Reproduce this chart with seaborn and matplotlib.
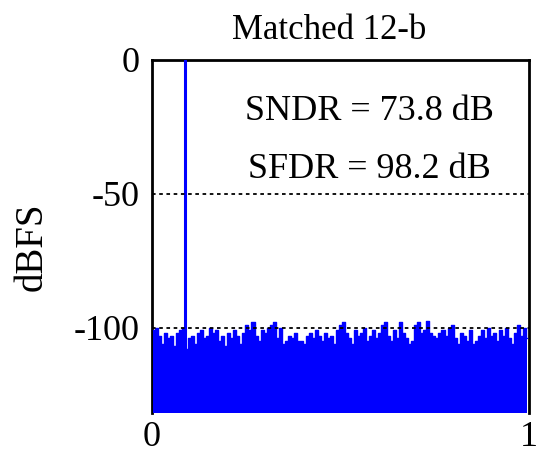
import numpy as np
import pandas as pd
import matplotlib
matplotlib.use("Agg")
import matplotlib.pyplot as plt
import seaborn as sns

# ---- data ----
title = "Matched 12-b"
sndr_text = "SNDR = 73.8 dB"
sfdr_text = "SFDR = 98.2 dB"
signal_freq = 0.0875
signal_level = 0.0
bin_width = 0.008
noise_levels = [
    -101, -100, -103, -106, -102, -104, -103, -107, -102, -101, -100,
    -108, -104, -103, -106, -102, -101, -104, -103, -100, -102,
    -101, -105, -103, -107, -102, -104, -101, -103, -106, -102,
    -99, -101, -98, -103, -105, -101, -102, -100, -99, -98,
    -104, -100, -106, -105, -103, -104, -102, -105, -105, -106,
    -103, -102, -104, -101, -103, -105, -102, -104, -103, -106,
    -101, -99, -98, -102, -104, -106, -101, -103, -102, -100,
    -105, -103, -101, -104, -102, -99, -98, -103, -105, -101,
    -104, -98, -102, -104, -106, -105, -99, -98, -102, -101,
    -97.5, -102, -103, -104, -102, -101, -103, -100, -99, -104,
    -106, -102, -103, -105, -101, -106, -105, -103, -101, -104,
    -100, -103, -102, -105, -101, -103, -100, -104, -106, -102,
    -99, -103, -100, -104,
]
noise_freq = [bin_width / 2 + bin_width * i for i in range(len(noise_levels))]
y_ticks = [0, -50, -100]
x_ticks = [0, 1]
y_min = -132

sns.set_theme(style="white")
plt.rcParams["font.family"] = ["Liberation Serif", "DejaVu Serif"]
plt.rcParams["text.color"] = "black"
plt.rcParams["axes.labelcolor"] = "black"
plt.rcParams["xtick.color"] = "black"
plt.rcParams["ytick.color"] = "black"

fig = plt.figure(figsize=(5.37, 4.54), dpi=100)
ax = fig.add_axes([0.283, 0.090, 0.702, 0.778])

df = pd.DataFrame({"f": noise_freq, "dB": noise_levels})
sns.lineplot(data=df, x="f", y="dB", ax=ax, color="blue", lw=1,
             drawstyle="steps-mid", zorder=3, estimator=None)
ax.fill_between(df["f"], df["dB"], y_min, step="mid", color="blue",
                lw=0, zorder=3)
sig = pd.DataFrame({"f": [signal_freq, signal_freq], "dB": [y_min, signal_level]})
sns.lineplot(data=sig, x="f", y="dB", ax=ax, color="blue", lw=2.2,
             zorder=4, estimator=None, sort=False)

for yv in [-50, -100]:
    ax.axhline(yv, color="black", lw=1.3, ls=(0, (2, 2)), zorder=5)

ax.set_xlim(0, 1)
ax.set_ylim(y_min, 0)
ax.set_xticks(x_ticks)
ax.set_xticklabels([str(v) for v in x_ticks])
ax.set_yticks(y_ticks)
ax.set_yticklabels([str(v) for v in y_ticks])
ax.tick_params(labelsize=26, length=0, colors="black")
ax.tick_params(axis="x", pad=6)
ax.tick_params(axis="y", pad=9)
ax.set_xlabel("")
ax.set_ylabel("dBFS", fontsize=28, color="black")
ax.yaxis.set_label_coords(-0.27, 0.47)
ax.set_title(title, fontsize=25, pad=15, x=0.47, color="black")
for s in ax.spines.values():
    s.set_color("black")
    s.set_linewidth(2)
ax.spines["bottom"].set_visible(False)

ax.text(0.578, -19.4, sndr_text, fontsize=26, ha="center", va="center",
        color="black")
ax.text(0.578, -40.8, sfdr_text, fontsize=26, ha="center", va="center",
        color="black")

fig.savefig("out.png", dpi=100)
